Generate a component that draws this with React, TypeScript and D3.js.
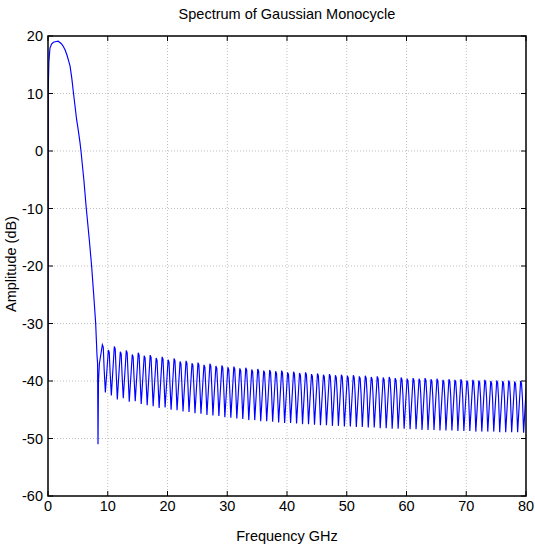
import React from "react";
import * as d3 from "d3";

const width = 535;
const height = 548;
const margin = { left: 48, right: 9, top: 36, bottom: 52 };
const font = "'Liberation Sans', Arial, Helvetica, sans-serif";

const xTicks = [0, 10, 20, 30, 40, 50, 60, 70, 80];
const yTicks = [20, 10, 0, -10, -20, -30, -40, -50, -60];

// main lobe (GHz, dB)
const lobeFreq = [
  0, 0.05, 0.15, 0.33, 0.6, 0.9, 1.2, 1.7, 2.2, 2.5, 2.85, 3.2, 3.5, 3.7, 4.0,
  4.24, 4.5, 4.8, 5.07, 5.35, 5.52, 6.0, 6.41, 6.9, 7.3, 7.65, 7.98, 8.1, 8.2,
  8.3, 8.37, 8.45, 8.6,
];
const lobeDb = [
  -40, 11, 15.5, 17.9, 18.6, 18.9, 19.0, 19.1, 18.7, 18.3, 17.6, 16.6, 15.5,
  14.7, 12.5, 10.3, 8, 5.4, 3.6, 1.5, 0, -5, -10, -15.3, -20, -25, -30, -33,
  -35.5, -37, -51, -40, -37,
];

// sidelobe ripple: one entry per ~1 GHz cycle
const rippleStart = 8.8;
const rippleStep = 1.0;
const ripplePeak = [
  -33.7, -34.6, -34.0, -34.9, -34.7, -35.4, -35.1, -35.6, -35.5, -36.0,
  -35.8, -36.3, -36.1, -36.6, -36.5, -36.9, -36.8, -37.2, -37.0, -37.4,
  -37.3, -37.6, -37.5, -37.8, -37.7, -38.0, -37.9, -38.2, -38.1, -38.3,
  -38.2, -38.5, -38.4, -38.6, -38.5, -38.8, -38.7, -38.9, -38.8, -39.0,
  -38.9, -39.1, -39.0, -39.2, -39.1, -39.3, -39.2, -39.4, -39.3, -39.5,
  -39.4, -39.6, -39.5, -39.6, -39.5, -39.7, -39.6, -39.8, -39.7, -39.8,
  -39.7, -39.9, -39.8, -39.9, -39.8, -40.0, -39.9, -40.0, -39.9, -40.1,
  -40.0, -40.0,
];
const rippleShoulder = [
  -38.0, -38.6, -38.3, -39.0, -38.8, -39.4, -39.2, -39.6, -39.5, -39.9,
  -39.8, -40.2, -40.0, -40.4, -40.3, -40.6, -40.5, -40.8, -40.7, -41.0,
  -40.9, -41.1, -41.0, -41.3, -41.2, -41.4, -41.3, -41.6, -41.5, -41.7,
  -41.6, -41.8, -41.7, -41.9, -41.8, -42.0, -41.9, -42.1, -42.0, -42.2,
  -42.1, -42.3, -42.2, -42.3, -42.2, -42.4, -42.3, -42.5, -42.4, -42.5,
  -42.4, -42.6, -42.5, -42.6, -42.5, -42.7, -42.6, -42.7, -42.6, -42.8,
  -42.7, -42.8, -42.7, -42.9, -42.8, -42.9, -42.8, -43.0, -42.9, -43.0,
  -42.9, -43.0,
];
const rippleTrough = [
  -42.0, -42.5, -43.2, -43.0, -43.6, -43.5, -44.0, -44.2, -44.4, -44.7,
  -44.6, -45.0, -45.1, -45.3, -45.4, -45.6, -45.7, -45.9, -46.0, -46.1,
  -46.3, -46.4, -46.5, -46.6, -46.8, -46.8, -47.0, -47.0, -47.1, -47.2,
  -47.3, -47.3, -47.4, -47.5, -47.5, -47.6, -47.7, -47.7, -47.8, -47.8,
  -47.9, -47.9, -48.0, -48.0, -48.1, -48.1, -48.2, -48.2, -48.3, -48.3,
  -48.3, -48.4, -48.4, -48.5, -48.5, -48.5, -48.6, -48.6, -48.6, -48.7,
  -48.7, -48.7, -48.8, -48.8, -48.8, -48.8, -48.9, -48.9, -48.9, -48.9,
  -49.0, -49.0,
];

const x = d3
  .scaleLinear()
  .domain([0, 80])
  .range([margin.left, width - margin.right]);
const y = d3
  .scaleLinear()
  .domain([-60, 20])
  .range([height - margin.bottom, margin.top]);

const buildPoints = (): [number, number][] => {
  const pts: [number, number][] = lobeFreq.map((f, i) => [f, lobeDb[i]]);
  ripplePeak.forEach((p, i) => {
    const s = rippleStart + i * rippleStep;
    pts.push([s + 0.3, p]);
    pts.push([s + 0.45, p - 0.4]);
    pts.push([s + 0.6, rippleShoulder[i]]);
    pts.push([s + 0.8, rippleTrough[i]]);
  });
  return pts;
};

const App = () => {
  const pts = buildPoints();
  const line = d3
    .line<[number, number]>()
    .x((d) => x(d[0]))
    .y((d) => y(d[1]));
  const x0 = margin.left;
  const x1 = width - margin.right;
  const y0 = margin.top;
  const y1 = height - margin.bottom;
  const tick = 5;

  return (
    <svg
      width={width}
      height={height}
      style={{ position: "absolute", left: 0, top: 0, background: "#fff" }}
      fontFamily={font}
    >
      <defs>
        <clipPath id="plot">
          <rect x={x0} y={y0} width={x1 - x0} height={y1 - y0} />
        </clipPath>
      </defs>
      <rect x={0} y={0} width={width} height={height} fill="#fff" />
      {/* grid */}
      <g stroke="#c0c0c0" strokeWidth={1} strokeDasharray="1,2">
        {xTicks.slice(1, -1).map((t) => (
          <line key={"gx" + t} x1={x(t)} x2={x(t)} y1={y0} y2={y1} />
        ))}
        {yTicks.slice(1, -1).map((t) => (
          <line key={"gy" + t} x1={x0} x2={x1} y1={y(t)} y2={y(t)} />
        ))}
      </g>
      <path
        d={line(pts) || ""}
        fill="none"
        stroke="#0000ff"
        strokeWidth={1.15}
        clipPath="url(#plot)"
      />
      {/* ticks */}
      <g stroke="#000" strokeWidth={1}>
        {xTicks.map((t) => (
          <g key={"tx" + t}>
            <line x1={x(t)} x2={x(t)} y1={y1} y2={y1 - tick} />
            <line x1={x(t)} x2={x(t)} y1={y0} y2={y0 + tick} />
          </g>
        ))}
        {yTicks.map((t) => (
          <g key={"ty" + t}>
            <line x1={x0} x2={x0 + tick} y1={y(t)} y2={y(t)} />
            <line x1={x1} x2={x1 - tick} y1={y(t)} y2={y(t)} />
          </g>
        ))}
      </g>
      <rect
        x={x0}
        y={y0}
        width={x1 - x0}
        height={y1 - y0}
        fill="none"
        stroke="#000"
        strokeWidth={1.5}
      />
      {/* labels */}
      <g fontSize={14.5} fill="#000">
        {xTicks.map((t) => (
          <text key={"lx" + t} x={x(t)} y={y1 + 15} textAnchor="middle">
            {t}
          </text>
        ))}
        {yTicks.map((t) => (
          <text
            key={"ly" + t}
            x={x0 - 5}
            y={y(t) + 5}
            textAnchor="end"
          >
            {t}
          </text>
        ))}
        <text x={(x0 + x1) / 2} y={541} textAnchor="middle">
          Frequency GHz
        </text>
        <text
          transform={`translate(16, ${(y0 + y1) / 2 - 2}) rotate(-90)`}
          textAnchor="middle"
        >
          Amplitude (dB)
        </text>
        <text x={(x0 + x1) / 2} y={19} textAnchor="middle">
          Spectrum of Gaussian Monocycle
        </text>
      </g>
    </svg>
  );
};

export default App;
